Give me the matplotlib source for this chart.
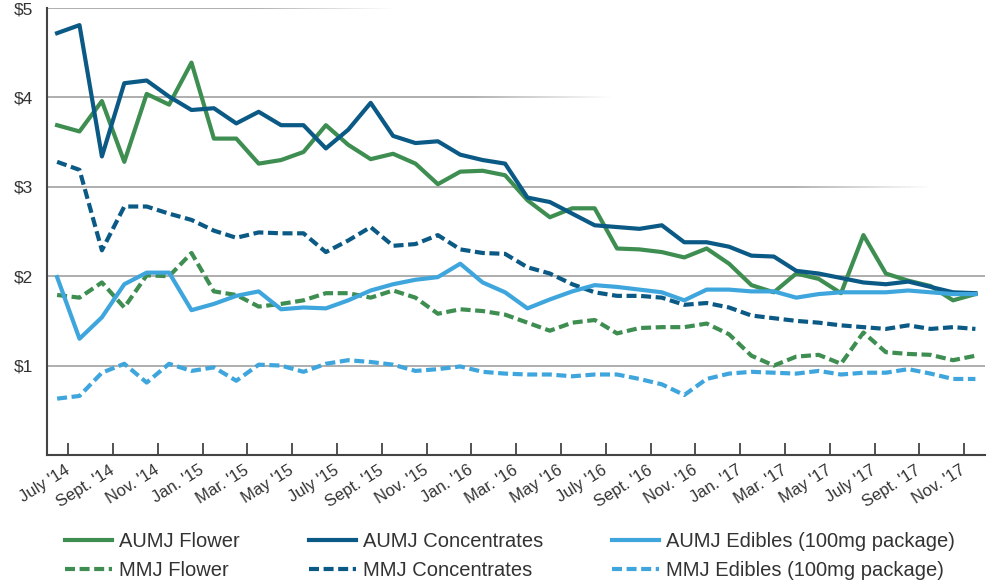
import numpy as np
import matplotlib.pyplot as plt
from matplotlib.collections import LineCollection

plt.rcParams.update({
    'font.family': ['Liberation Sans', 'DejaVu Sans'],
    'font.size': 12,
    'text.color': '#333333',
})

# monthly prices, July '14 .. Dec '17
tick_labels = ["July '14", "Sept. '14", "Nov. '14", "Jan. '15", "Mar. '15", "May '15",
               "July '15", "Sept. '15", "Nov. '15", "Jan. '16", "Mar. '16", "May '16",
               "July '16", "Sept. '16", "Nov. '16", "Jan. '17", "Mar. '17", "May '17",
               "July '17", "Sept. '17", "Nov. '17"]
y_labels = ['\\$1', '\\$2', '\\$3', '\\$4', '\\$5']

aumj_flower = [3.69, 3.62, 3.96, 3.28, 4.04, 3.92, 4.39, 3.54, 3.54, 3.26, 3.30, 3.39, 3.69,
               3.47, 3.31, 3.37, 3.26, 3.03, 3.17, 3.18, 3.13, 2.85, 2.66, 2.76, 2.76, 2.31, 2.30,
               2.27, 2.21, 2.31, 2.14, 1.90, 1.82, 2.03, 1.97, 1.81, 2.46, 2.03, 1.95, 1.89, 1.73, 1.80]
aumj_conc = [4.72, 4.81, 3.34, 4.16, 4.19, 4.01, 3.86, 3.88, 3.71, 3.84, 3.69, 3.69, 3.43,
             3.64, 3.94, 3.57, 3.49, 3.51, 3.36, 3.30, 3.26, 2.88, 2.83, 2.70, 2.57, 2.55, 2.53,
             2.57, 2.38, 2.38, 2.33, 2.23, 2.22, 2.06, 2.03, 1.98, 1.93, 1.91, 1.94, 1.88, 1.82, 1.81]
aumj_edibles = [1.99, 1.30, 1.54, 1.91, 2.04, 2.04, 1.62, 1.69, 1.78, 1.83, 1.63, 1.65, 1.64,
                1.73, 1.84, 1.91, 1.96, 1.99, 2.14, 1.93, 1.82, 1.64, 1.74, 1.83, 1.90, 1.88, 1.85,
                1.82, 1.73, 1.85, 1.85, 1.83, 1.83, 1.76, 1.80, 1.82, 1.82, 1.82, 1.84, 1.82, 1.80, 1.80]
mmj_flower = [1.79, 1.76, 1.93, 1.65, 2.01, 2.00, 2.26, 1.83, 1.79, 1.66, 1.69, 1.73, 1.81,
              1.81, 1.76, 1.84, 1.76, 1.58, 1.63, 1.61, 1.57, 1.48, 1.39, 1.48, 1.51, 1.36, 1.42,
              1.43, 1.43, 1.47, 1.35, 1.11, 1.00, 1.10, 1.12, 1.02, 1.37, 1.15, 1.13, 1.12, 1.06, 1.11]
mmj_conc = [3.28, 3.19, 2.29, 2.78, 2.78, 2.70, 2.63, 2.51, 2.43, 2.49, 2.48, 2.48, 2.27,
            2.40, 2.55, 2.34, 2.36, 2.46, 2.30, 2.26, 2.25, 2.10, 2.03, 1.91, 1.82, 1.78, 1.78,
            1.76, 1.68, 1.70, 1.65, 1.56, 1.53, 1.50, 1.48, 1.45, 1.43, 1.41, 1.45, 1.41, 1.43, 1.41]
mmj_edibles = [0.63, 0.66, 0.92, 1.02, 0.81, 1.02, 0.94, 0.98, 0.83, 1.01, 1.00, 0.93, 1.02,
               1.06, 1.04, 1.01, 0.94, 0.96, 0.99, 0.93, 0.91, 0.90, 0.90, 0.88, 0.90, 0.90, 0.85,
               0.79, 0.67, 0.85, 0.91, 0.93, 0.92, 0.91, 0.94, 0.90, 0.92, 0.92, 0.96, 0.91, 0.85, 0.85]

green = '#3e8e52'
navy = '#0b5a86'
sky = '#3ea6dd'

fig = plt.figure(figsize=(9.92, 5.81), dpi=100)
ax = fig.add_axes([0.0474, 0.217, 0.9456, 0.769])

x = np.arange(len(aumj_flower))
lw = 3.0
dash = (2.4, 1.1)
ax.plot(x, aumj_flower, color=green, lw=lw, label='AUMJ Flower')
ax.plot(x, mmj_flower, color=green, lw=lw, dashes=dash, label='MMJ Flower')
ax.plot(x, aumj_conc, color=navy, lw=lw, label='AUMJ Concentrates')
ax.plot(x, mmj_conc, color=navy, lw=lw, dashes=dash, label='MMJ Concentrates')
ax.plot(x, aumj_edibles, color=sky, lw=lw, label='AUMJ Edibles (100mg package)')
ax.plot(x, mmj_edibles, color=sky, lw=lw, dashes=dash, label='MMJ Edibles (100mg package)')

# grid lines that fade out towards the right
trans = ax.get_yaxis_transform()
for level, end in zip([1, 2, 3, 4, 5], [1.0, 1.0, 0.94, 0.60, 0.37]):
    xs = np.linspace(0, end, 150)
    segs = [[(xs[k], level), (xs[k + 1], level)] for k in range(len(xs) - 1)]
    if end < 1:
        alpha = np.clip((end - xs[:-1]) / 0.15, 0, 1)
    else:
        alpha = np.ones(len(segs))
    cols = [(0.66, 0.66, 0.66, a) for a in alpha]
    ax.add_collection(LineCollection(segs, colors=cols, linewidths=1.3, transform=trans,
                                     capstyle='butt', zorder=0.5))

ax.set_xlim(-0.45, 41.43)
ax.set_ylim(0, 5)
ax.set_yticks([1, 2, 3, 4, 5], y_labels)
ax.set_xticks(np.arange(0, len(x), 2) + 0.5, tick_labels)
ax.tick_params(axis='y', length=0, pad=10, labelsize=12.5, labelcolor='#333333')
ax.tick_params(axis='x', direction='in', length=9, width=1.3, color='#444444', pad=10,
               labelsize=12, labelcolor='#333333')
for lab in ax.get_xticklabels():
    lab.set_rotation(32)
    lab.set_rotation_mode('anchor')
    lab.set_ha('right')
    lab.set_va('center')

for side in ['top', 'right']:
    ax.spines[side].set_visible(False)
for side in ['left', 'bottom']:
    ax.spines[side].set_color('#444444')
    ax.spines[side].set_linewidth(1.5)

fig.legend(loc='upper left', bbox_to_anchor=(0.0655, 0.084), ncol=3, frameon=False,
           fontsize=14.5, handlelength=2.35, handletextpad=0.35, columnspacing=3.4,
           labelspacing=0.5, borderpad=0, borderaxespad=0)

fig.savefig('out.png', dpi=100)
